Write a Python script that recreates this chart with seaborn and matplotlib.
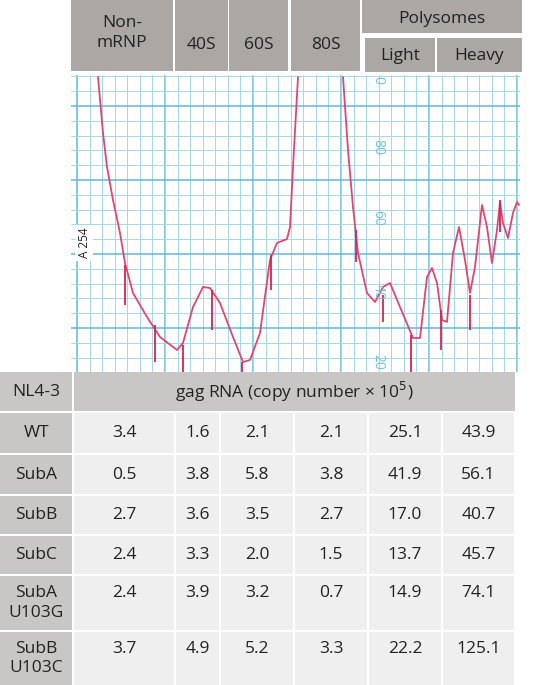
import numpy as np
import pandas as pd
import seaborn as sns
import matplotlib.pyplot as plt
from matplotlib.patches import Rectangle

sns.set_style("white")
plt.rcParams['font.family'] = ['Open Sans', 'DejaVu Sans']

# header fractions
fractions = ["Non-\nmRNP", "40S", "60S", "80S"]
poly_sub = ["Light", "Heavy"]

# table data
strains = ["WT", "SubA", "SubB", "SubC", "SubA\nU103G", "SubB\nU103C"]
non_mrnp = [3.4, 0.5, 2.7, 2.4, 2.4, 3.7]
s40 = [1.6, 3.8, 3.6, 3.3, 3.9, 4.9]
s60 = [2.1, 5.8, 3.5, 2.0, 3.2, 5.2]
s80 = [2.1, 3.8, 2.7, 1.5, 0.7, 3.3]
light = [25.1, 41.9, 17.0, 13.7, 14.9, 22.2]
heavy = [43.9, 56.1, 40.7, 45.7, 74.1, 125.1]

# A254 trace (x position, y position in px)
trace1_x = [98, 103, 107, 113, 120, 125, 133, 147, 160, 177, 183, 193, 203, 210, 220,
            233, 243, 250, 260, 270, 277, 287, 290, 293, 298]
trace1_y = [77, 133, 167, 200, 233, 263, 293, 317, 337, 350, 343, 307, 287, 288, 303,
            337, 362, 360, 333, 260, 243, 239, 227, 167, 77]
trace2_x = [343, 348, 353, 358, 367, 375, 383, 390, 400, 413, 420, 427, 432, 437, 442,
            447, 453, 459, 465, 470, 475, 482, 487, 492, 497, 500, 503, 508, 513, 517, 519]
trace2_y = [77, 150, 207, 253, 293, 302, 287, 283, 307, 338, 338, 277, 268, 283, 320,
            322, 253, 227, 260, 293, 267, 205, 227, 263, 230, 202, 223, 238, 213, 202, 205]
# fraction marks on the trace
mark_x = [125, 155, 183, 212, 242, 271, 356, 383, 411, 441, 470, 500]
mark_top = [265, 325, 345, 290, 362, 255, 230, 295, 335, 310, 295, 200]
mark_bot = [305, 362, 372, 330, 372, 290, 262, 322, 372, 350, 330, 232]
scale_labels = ["0", "80", "60", "40", "20"]
scale_pos = [80, 147, 218, 292, 362]

W, H = 552, 685
fig = plt.figure(figsize=(W / 100, H / 100), dpi=100)
bg = fig.add_axes([0, 0, 1, 1])
bg.set_xlim(0, W)
bg.set_ylim(H, 0)
bg.axis("off")

hdr = "#aaa7a4"
lab = "#c9c7c5"
cell = "#efefef"
txt = "#222222"
fs = 12.5

def box(ax, x0, y0, x1, y1, color):
    ax.add_patch(Rectangle((x0, y0), x1 - x0, y1 - y0, facecolor=color, edgecolor="none"))

# header boxes
hx = [(71, 173), (175, 228), (229, 288), (291, 360)]
for (x0, x1), name in zip(hx, fractions):
    box(bg, x0, 0, x1, 71, hdr)
    bg.text((x0 + x1) / 2, 33 if "\n" in name else 45, name, ha="center", va="center",
            fontsize=fs, color=txt, linespacing=1.3)
box(bg, 362, 0, 522, 33, hdr)
bg.text(442, 19, "Polysomes", ha="center", va="center", fontsize=fs, color=txt)
for (x0, x1), name in zip([(365, 435), (437, 522)], poly_sub):
    box(bg, x0, 38, x1, 72, hdr)
    bg.text((x0 + x1) / 2, 56, name, ha="center", va="center", fontsize=fs, color=txt)

# table
cx = [73, 175, 220, 294, 368, 442, 515]
box(bg, 0, 372, 72, 411, lab)
bg.text(36, 392, "NL4-3", ha="center", va="center", fontsize=fs, color=txt)
box(bg, 74, 372, 515, 411, lab)
bg.text(294, 392, "gag RNA (copy number × 10$^5$)", ha="center", va="center", fontsize=fs, color=txt)
rows_y = [(413, 453), (455, 494), (496, 534), (536, 574), (576, 630), (632, 685)]
df = pd.DataFrame({"strain": strains, "Non-mRNP": non_mrnp, "40S": s40, "60S": s60,
                   "80S": s80, "Light": light, "Heavy": heavy})
cols = ["Non-mRNP", "40S", "60S", "80S", "Light", "Heavy"]
for i, (y0, y1) in enumerate(rows_y):
    box(bg, 0, y0, 72, y1, lab)
    yc = (y0 + y1) / 2
    bg.text(36, yc, df.strain[i], ha="center", va="center", fontsize=fs, color=txt, linespacing=1.3)
    yv = yc if "\n" not in df.strain[i] else y0 + 17
    for j, c in enumerate(cols):
        box(bg, cx[j] + 1, y0, cx[j + 1] - 1, y1, cell)
        bg.text((cx[j] + cx[j + 1]) / 2, yv, f"{df[c][i]:.1f}", ha="center", va="center",
                fontsize=fs, color=txt)

# chart paper trace
ax = fig.add_axes([71 / W, 1 - 372 / H, 449 / W, 297 / H])
t1 = pd.DataFrame({"x": trace1_x, "y": trace1_y})
t2 = pd.DataFrame({"x": trace2_x, "y": trace2_y})
sns.lineplot(data=t1, x="x", y="y", sort=False, color="#e0466e", lw=1.3, ax=ax,
             solid_joinstyle="round")
sns.lineplot(data=t2, x="x", y="y", sort=False, color="#e0466e", lw=1.3, ax=ax,
             solid_joinstyle="round")
ax.vlines(mark_x, mark_top, mark_bot, color="#d8224f", lw=1.3)
ax.set_xticks(np.arange(77 - 12.57 * 6, 521, 12.57), minor=True)
ax.set_yticks(np.arange(180 - 14.8 * 7, 373, 14.8), minor=True)
ax.set_xticks(np.arange(77, 521, 88))
ax.set_yticks(np.arange(106, 373, 74))
ax.set_xlim(71, 520)
ax.set_ylim(372, 75)
ax.grid(which="minor", color="#a3d8ea", lw=0.7)
ax.grid(which="major", color="#62b8d6", lw=1.1)
ax.set_axisbelow(True)
ax.tick_params(which="both", length=0, labelbottom=False, labelleft=False)
for s in ax.spines.values():
    s.set_visible(False)
for lbl, yp in zip(scale_labels, scale_pos):
    ax.text(378, yp, lbl, rotation=-90, ha="center", va="center", fontsize=10, color="#6cc3e0")
ax.text(84, 243, "A 254", rotation=90, ha="center", va="center", fontsize=8.5, color=txt,
        bbox=dict(facecolor="white", edgecolor="none", pad=2))
ax.set_xlabel("")
ax.set_ylabel("")

fig.savefig("out.png", dpi=100)
